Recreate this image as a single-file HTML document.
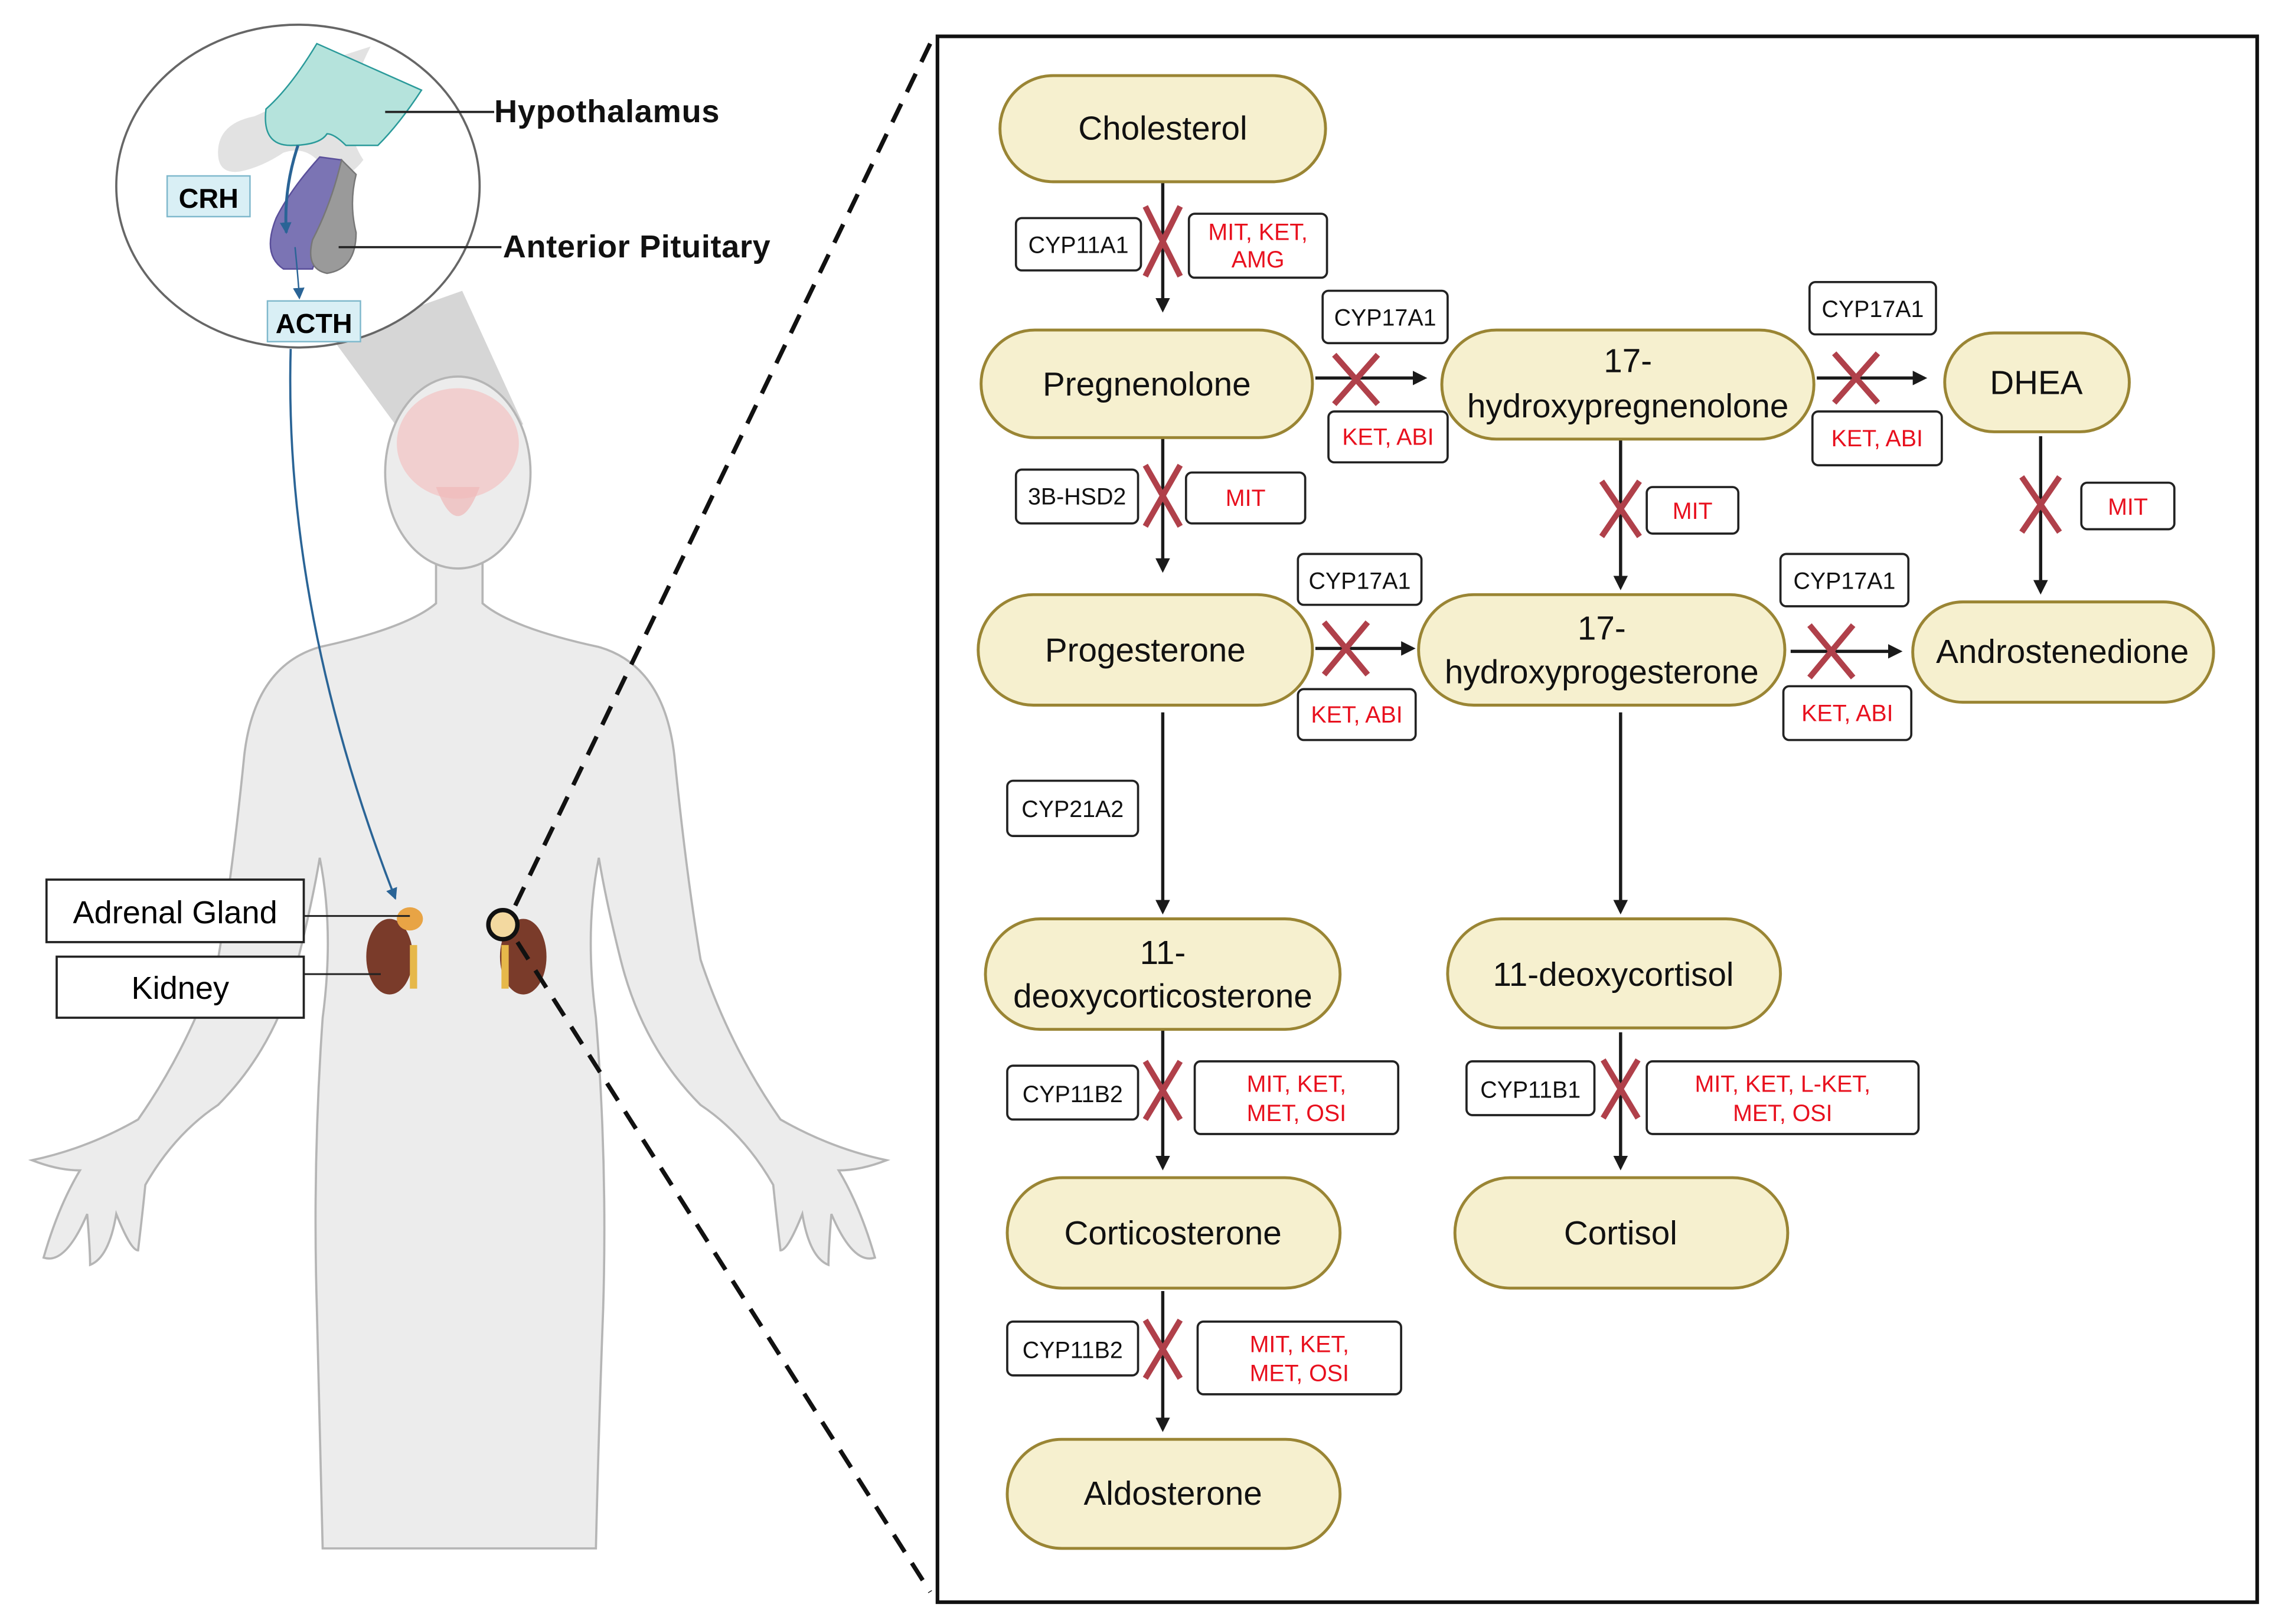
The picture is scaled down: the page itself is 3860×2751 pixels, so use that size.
<!DOCTYPE html>
<html><head><meta charset="utf-8"><style>
html,body{margin:0;padding:0;background:#fff}
svg{display:block}
text{font-family:"Liberation Sans",sans-serif}
</style></head><body>
<svg width="3860" height="2751" viewBox="0 0 1568 1117" preserveAspectRatio="none" xmlns="http://www.w3.org/2000/svg">
<defs>
<marker id="ah" markerWidth="10" markerHeight="10" refX="8" refY="5" orient="auto" markerUnits="userSpaceOnUse"><path d="M0,0 L10,5 L0,10 Z" fill="#1a1a1a"/></marker>
<marker id="bh" markerWidth="8" markerHeight="8" refX="7" refY="4" orient="auto" markerUnits="userSpaceOnUse"><path d="M0,0 L8,4 L0,8 Z" fill="#2a6496"/></marker>
</defs>
<rect width="1568" height="1117" fill="#fff"/>

<!-- gray projection wedge -->
<polygon points="228,232 318,200 360,292 272,292" fill="#d6d6d6"/>

<!-- body -->
<g fill="#ececec" stroke="#b5b5b5" stroke-width="1.5">
<path d="M300,385 L300,415 Q280,432 220,445 Q175,458 168,520 Q160,600 150,660 Q130,720 95,770 Q60,790 22,798 Q40,805 55,805 Q40,830 30,865 Q45,870 60,835 Q62,860 62,870 Q75,865 80,835 Q90,860 95,860 Q98,835 100,815 Q120,780 150,760 Q190,720 205,660 Q215,620 220,590 Q230,640 222,700 Q215,800 218,900 Q220,980 222,1065 L410,1065 Q412,980 415,900 Q418,800 410,700 Q402,640 412,590 Q417,620 427,660 Q442,720 482,760 Q512,780 532,815 Q534,835 537,860 Q542,860 552,835 Q557,865 570,870 Q570,860 572,835 Q587,870 602,865 Q592,830 577,805 Q592,805 610,798 Q572,790 537,770 Q502,720 482,660 Q472,600 464,520 Q457,458 412,445 Q352,432 332,415 L332,385 Z"/>
<ellipse cx="315" cy="325" rx="50" ry="66"/>
</g>
<ellipse cx="315" cy="305" rx="42" ry="38" fill="#f3c8c8" opacity="0.8"/>
<path d="M300,335 Q315,375 330,335" fill="#f0b8b8" opacity="0.7"/>

<!-- kidneys -->
<g>
<ellipse cx="268" cy="658" rx="16" ry="26" fill="#7a3b2a"/>
<ellipse cx="282" cy="632" rx="9" ry="8" fill="#e8a445"/>
<rect x="282" y="650" width="5" height="30" fill="#e6b84a"/>
<ellipse cx="360" cy="658" rx="16" ry="26" fill="#7a3b2a"/>
<ellipse cx="346" cy="636" rx="10" ry="10" fill="#f3d9a0" stroke="#111" stroke-width="3"/>
<rect x="345" y="650" width="5" height="30" fill="#e6b84a"/>
</g>

<!-- inset circle -->
<ellipse cx="205" cy="128" rx="125" ry="111" fill="#fff" stroke="#666" stroke-width="1.5"/>
<path d="M150,105 Q150,85 175,80 Q200,70 230,40 L255,32 Q230,80 250,110 Q235,130 220,112 Q210,100 195,105 Q180,115 165,118 Q150,120 150,105Z" fill="#e2e2e2"/>
<path d="M183,75 Q200,60 218,30 L290,62 Q275,85 260,100 L238,100 Q230,92 225,92 Q220,100 200,100 Q180,100 183,75Z" fill="#b5e3dc" stroke="#2a9a9a" stroke-width="1"/>
<path d="M220,108 Q200,130 190,150 Q180,175 195,185 L215,185 Q228,150 235,110Z" fill="#7b74b4" stroke="#5a4f9a"/>
<path d="M235,110 Q228,140 215,165 Q210,185 225,188 Q245,185 245,160 Q240,140 245,120Z" fill="#9a9a9a" stroke="#777"/>
<path d="M205,100 Q195,130 197,160" fill="none" stroke="#2a6496" stroke-width="2" marker-end="url(#bh)"/>
<path d="M203,170 Q205,190 206,205" fill="none" stroke="#2a6496" stroke-width="1" marker-end="url(#bh)"/>
<line x1="265" y1="77" x2="340" y2="77" stroke="#222" stroke-width="1.5"/>
<line x1="233" y1="170" x2="345" y2="170" stroke="#222" stroke-width="1.5"/>
<text x="340" y="84" font-size="22" font-weight="bold" fill="#111" textLength="155">Hypothalamus</text>
<text x="346" y="177" font-size="22" font-weight="bold" fill="#111" textLength="184">Anterior Pituitary</text>
<rect x="115" y="121" width="57" height="28" fill="#d9eff5" stroke="#7fb8cc"/>
<text x="143.5" y="143" font-size="19" font-weight="bold" text-anchor="middle">CRH</text>
<rect x="184" y="207" width="64" height="28" fill="#d9eff5" stroke="#7fb8cc"/>
<text x="216" y="229" font-size="19" font-weight="bold" text-anchor="middle">ACTH</text>

<!-- blue long arrow -->
<path d="M200,240 Q195,420 272,618" fill="none" stroke="#2a6496" stroke-width="1.5" marker-end="url(#bh)"/>

<!-- labels -->
<rect x="32" y="605" width="177" height="43" fill="#fff" stroke="#222" stroke-width="1.5"/>
<text x="120.5" y="635" font-size="22" text-anchor="middle">Adrenal Gland</text>
<rect x="39" y="658" width="170" height="42" fill="#fff" stroke="#222" stroke-width="1.5"/>
<text x="124" y="687" font-size="22" text-anchor="middle">Kidney</text>
<line x1="209" y1="630" x2="282" y2="630" stroke="#222" stroke-width="1.2"/>
<line x1="209" y1="670" x2="262" y2="670" stroke="#222" stroke-width="1.2"/>

<!-- dashed lines -->
<line x1="640" y1="30" x2="352" y2="628" stroke="#111" stroke-width="3" stroke-dasharray="14,9"/>
<line x1="356" y1="648" x2="640" y2="1095" stroke="#111" stroke-width="3" stroke-dasharray="14,9"/>

<!-- panel -->
<rect x="645" y="25" width="908" height="1077" fill="#fff" stroke="#111" stroke-width="2.5"/>

<!-- connectors -->
<g stroke="#1a1a1a" stroke-width="2.2" fill="none" marker-end="url(#ah)">
<line x1="800" y1="125" x2="800" y2="213"/>
<line x1="905" y1="260" x2="980" y2="260"/>
<line x1="1250" y1="260" x2="1324" y2="260"/>
<line x1="800" y1="301" x2="800" y2="392"/>
<line x1="1115" y1="302" x2="1115" y2="404"/>
<line x1="1404" y1="300" x2="1404" y2="407"/>
<line x1="905" y1="446" x2="972" y2="446"/>
<line x1="1232" y1="448" x2="1307" y2="448"/>
<line x1="800" y1="490" x2="800" y2="627"/>
<line x1="1115" y1="490" x2="1115" y2="627"/>
<line x1="800" y1="708" x2="800" y2="803"/>
<line x1="1115" y1="710" x2="1115" y2="803"/>
<line x1="800" y1="888" x2="800" y2="983"/>
</g>

<!-- nodes -->
<g fill="#f6f0cf" stroke="#9a8534" stroke-width="2">
<rect x="688" y="52" width="224" height="73" rx="36.5"/>
<rect x="675" y="227" width="228" height="74" rx="37"/>
<rect x="992" y="227" width="256" height="75" rx="37.5"/>
<rect x="1338" y="229" width="127" height="68" rx="34"/>
<rect x="673" y="409" width="230" height="76" rx="38"/>
<rect x="976" y="409" width="252" height="76" rx="38"/>
<rect x="1316" y="414" width="207" height="69" rx="34.5"/>
<rect x="678" y="632" width="244" height="76" rx="38"/>
<rect x="996" y="632" width="229" height="75" rx="37.5"/>
<rect x="693" y="810" width="229" height="76" rx="38"/>
<rect x="1001" y="810" width="229" height="76" rx="38"/>
<rect x="693" y="990" width="229" height="75" rx="37.5"/>
</g>
<g font-size="23" fill="#111" text-anchor="middle">
<text x="800" y="96">Cholesterol</text>
<text x="789" y="272">Pregnenolone</text>
<text x="1120" y="256">17-</text>
<text x="1120" y="287">hydroxypregnenolone</text>
<text x="1401" y="271">DHEA</text>
<text x="788" y="455">Progesterone</text>
<text x="1102" y="440">17-</text>
<text x="1102" y="470">hydroxyprogesterone</text>
<text x="1419" y="456">Androstenedione</text>
<text x="800" y="663">11-</text>
<text x="800" y="693">deoxycorticosterone</text>
<text x="1110" y="678">11-deoxycortisol</text>
<text x="807" y="856">Corticosterone</text>
<text x="1115" y="856">Cortisol</text>
<text x="807" y="1035">Aldosterone</text>
</g>

<!-- enzyme boxes -->
<g fill="#fff" stroke="#222" stroke-width="1.5">
<rect x="699" y="150" width="86" height="36" rx="4"/>
<rect x="910" y="200" width="86" height="36" rx="4"/>
<rect x="1245" y="194" width="87" height="36" rx="4"/>
<rect x="699" y="323" width="84" height="37" rx="4"/>
<rect x="893" y="381" width="85" height="35" rx="4"/>
<rect x="1225" y="381" width="88" height="36" rx="4"/>
<rect x="693" y="537" width="90" height="38" rx="4"/>
<rect x="693" y="733" width="90" height="37" rx="4"/>
<rect x="1009" y="730" width="88" height="37" rx="4"/>
<rect x="693" y="909" width="90" height="37" rx="4"/>
<rect x="818" y="147" width="95" height="44" rx="4"/>
<rect x="914" y="283" width="82" height="35" rx="4"/>
<rect x="1247" y="283" width="89" height="37" rx="4"/>
<rect x="816" y="325" width="82" height="35" rx="4"/>
<rect x="1133" y="335" width="63" height="32" rx="4"/>
<rect x="1432" y="332" width="64" height="32" rx="4"/>
<rect x="893" y="474" width="81" height="35" rx="4"/>
<rect x="1227" y="472" width="88" height="37" rx="4"/>
<rect x="822" y="730" width="140" height="50" rx="4"/>
<rect x="1133" y="730" width="187" height="50" rx="4"/>
<rect x="824" y="909" width="140" height="50" rx="4"/>
</g>
<g font-size="16" fill="#111" text-anchor="middle">
<text x="742" y="174">CYP11A1</text>
<text x="953" y="224">CYP17A1</text>
<text x="1288.5" y="218">CYP17A1</text>
<text x="741" y="347">3B-HSD2</text>
<text x="935.5" y="405">CYP17A1</text>
<text x="1269" y="405">CYP17A1</text>
<text x="738" y="562">CYP21A2</text>
<text x="738" y="758">CYP11B2</text>
<text x="1053" y="755">CYP11B1</text>
<text x="738" y="934">CYP11B2</text>
</g>
<g font-size="16" fill="#e8101e" text-anchor="middle">
<text x="865.5" y="165">MIT, KET,</text>
<text x="865.5" y="184">AMG</text>
<text x="955" y="306">KET, ABI</text>
<text x="1291.5" y="307">KET, ABI</text>
<text x="857" y="348">MIT</text>
<text x="1164.5" y="357">MIT</text>
<text x="1464" y="354">MIT</text>
<text x="933.5" y="497">KET, ABI</text>
<text x="1271" y="496">KET, ABI</text>
<text x="892" y="751">MIT, KET,</text>
<text x="892" y="771">MET, OSI</text>
<text x="1226.5" y="751">MIT, KET, L-KET,</text>
<text x="1226.5" y="771">MET, OSI</text>
<text x="894" y="930">MIT, KET,</text>
<text x="894" y="950">MET, OSI</text>
</g>

<!-- red X marks -->
<g stroke="#b0404a" stroke-width="4" stroke-linecap="butt">
<path d="M788,142 L812,190 M812,142 L788,190"/>
<path d="M918,244 L948,278 M948,244 L918,278"/>
<path d="M1262,243 L1292,277 M1292,243 L1262,277"/>
<path d="M788,320 L812,362 M812,320 L788,362"/>
<path d="M1102,331 L1128,369 M1128,331 L1102,369"/>
<path d="M1391,328 L1417,366 M1417,328 L1391,366"/>
<path d="M911,428 L941,464 M941,428 L911,464"/>
<path d="M1245,430 L1275,466 M1275,430 L1245,466"/>
<path d="M788,730 L812,770 M812,730 L788,770"/>
<path d="M1103,729 L1127,769 M1127,729 L1103,769"/>
<path d="M788,908 L812,948 M812,908 L788,948"/>
</g>
</svg>
</body></html>
